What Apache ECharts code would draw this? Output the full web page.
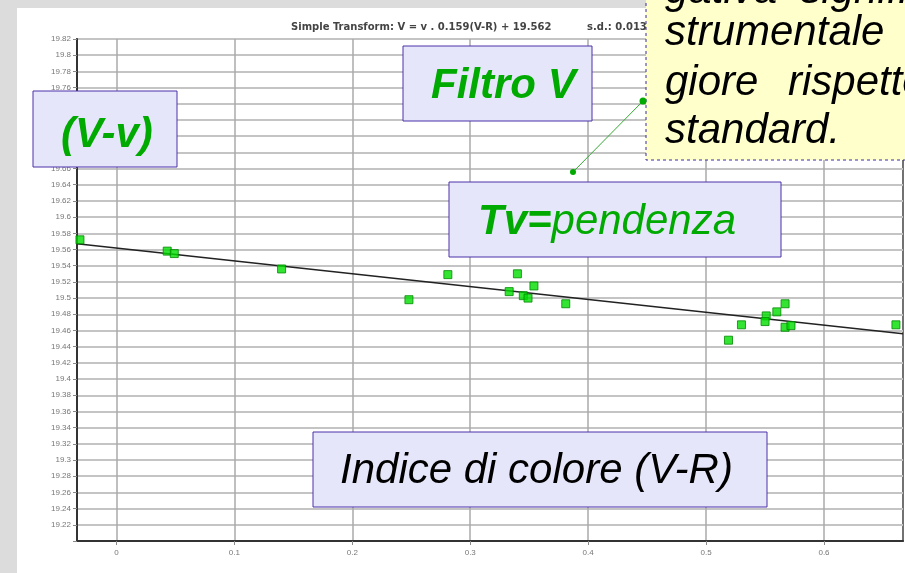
<!DOCTYPE html>
<html>
<head>
<meta charset="utf-8">
<script src="https://cdn.jsdelivr.net/npm/echarts@6/dist/echarts.min.js"></script>
<style>
html,body{margin:0;padding:0;background:#dcdcdc;}
#chart{width:905px;height:573px;}
</style>
</head>
<body>
<div id="chart"></div>
<script>
// Observed data: colour index (V-R) vs instrumental offset (V-v)
const colorIndex = [-0.031, 0.043, 0.049, 0.140, 0.248, 0.281, 0.340, 0.333, 0.345, 0.349, 0.354, 0.381,
                    0.519, 0.530, 0.551, 0.550, 0.560, 0.567, 0.567, 0.572, 0.661];
const offsetVv   = [19.572, 19.558, 19.555, 19.536, 19.498, 19.529, 19.530, 19.508, 19.503, 19.500, 19.515, 19.493,
                    19.448, 19.467, 19.478, 19.471, 19.483, 19.493, 19.464, 19.466, 19.467];
// Fitted line end points
const fitX = [-0.0335, 0.667];
const fitY = [19.567, 19.456];
// X tick values shown on the axis
const xTicks = [0, 0.1, 0.2, 0.3, 0.4, 0.5, 0.6];
const titleText = "Simple Transform: V = v . 0.159(V-R) + 19.562";
const sdText = "s.d.: 0.0131";
const noteLines = ["gativa  significativa", "strumentale  mag-", "giore", "standard."];

const chart = echarts.init(document.getElementById('chart'));
const pts = colorIndex.map((x, i) => [x, offsetVv[i]]);
const fit = fitX.map((x, i) => [x, fitY[i]]);
const F = '"Liberation Sans", Arial, sans-serif';
const green = '#00aa00';
const boxFill = '#e6e6fa';
const boxStroke = '#4a30a8';

chart.setOption({
  animation: false,
  backgroundColor: 'transparent',
  grid: {left: 77, top: 39, right: 2, bottom: 32, show: true, borderColor: '#444', borderWidth: 1.5, backgroundColor: '#fff'},
  xAxis: {
    type: 'value', min: -0.0335, max: 0.667,
    axisLine: {show: true, onZero: false, lineStyle: {color: '#333', width: 2}},
    axisTick: {show: true, length: 4, customValues: xTicks, lineStyle: {color: '#888'}},
    splitLine: {show: true, lineStyle: {color: '#aaaaaa', width: 1.5}},
    axisLabel: {
      fontSize: 8, color: '#777', fontFamily: F, margin: 8, customValues: xTicks,
      formatter: v => String(Math.round(v * 10) / 10)
    }
  },
  yAxis: {
    type: 'value', min: 19.2, max: 19.82, interval: 0.02,
    axisLine: {show: true, onZero: false, lineStyle: {color: '#333', width: 2}},
    axisTick: {show: true, length: 4, lineStyle: {color: '#888'}},
    splitLine: {show: true, lineStyle: {color: '#c4c4c4', width: 2}},
    axisLabel: {
      fontSize: 8, color: '#777', fontFamily: F, margin: 6,
      formatter: v => v < 19.21 ? '' : String(Math.round(v * 100) / 100)
    }
  },
  series: [
    {type: 'line', data: fit, symbol: 'none', lineStyle: {color: '#222', width: 1.5}, z: 3},
    {type: 'scatter', data: pts, symbol: 'rect', symbolSize: 8,
     itemStyle: {color: '#00dd00', borderColor: '#008800', borderWidth: 1}, z: 4}
  ],
  graphic: [
    {type: 'rect', shape: {x: 17, y: 8, width: 888, height: 565}, style: {fill: '#ffffff'}, z: -10, silent: true},
    {type: 'text', x: 291, y: 27, style: {text: titleText, font: 'bold 10px "DejaVu Sans", sans-serif', fill: '#444', verticalAlign: 'middle'}, z: 10},
    {type: 'text', x: 587, y: 27, style: {text: sdText, font: 'bold 10px "DejaVu Sans", sans-serif', fill: '#444', verticalAlign: 'middle'}, z: 10},
    // (V-v)
    {type: 'rect', shape: {x: 33, y: 91, width: 144, height: 76}, style: {fill: boxFill, stroke: boxStroke, lineWidth: 1}, z: 20},
    {type: 'text', x: 61, y: 135, style: {text: '(V-v)', font: 'italic bold 42px ' + F, fill: green, verticalAlign: 'middle'}, z: 21},
    // Filtro V
    {type: 'rect', shape: {x: 403, y: 46, width: 189, height: 75}, style: {fill: boxFill, stroke: boxStroke, lineWidth: 1}, z: 20},
    {type: 'text', x: 431, y: 86, style: {text: 'Filtro V', font: 'italic bold 42px ' + F, fill: green, verticalAlign: 'middle'}, z: 21},
    // Tv=pendenza
    {type: 'rect', shape: {x: 449, y: 182, width: 332, height: 75}, style: {fill: boxFill, stroke: boxStroke, lineWidth: 1}, z: 20},
    {type: 'text', x: 478, y: 222, style: {
      text: '{b|Tv=}{n|pendenza}', verticalAlign: 'middle',
      rich: {b: {font: 'italic bold 42px ' + F, fill: green}, n: {font: 'italic 42px ' + F, fill: green}}
    }, z: 21},
    // Indice di colore
    {type: 'rect', shape: {x: 313, y: 432, width: 454, height: 75}, style: {fill: boxFill, stroke: boxStroke, lineWidth: 1}, z: 20},
    {type: 'text', x: 340, y: 471, style: {text: 'Indice di colore (V-R)', font: 'italic 42px ' + F, fill: '#000', verticalAlign: 'middle'}, z: 21},
    // note box
    {type: 'rect', shape: {x: 646, y: -10, width: 270, height: 170}, style: {fill: '#ffffcc', stroke: '#3a2aa0', lineWidth: 1, lineDash: [3, 3]}, z: 30},
    {type: 'text', x: 665, y: -9, style: {text: noteLines[0], font: 'italic 42px ' + F, fill: '#000', verticalAlign: 'middle'}, z: 31},
    {type: 'text', x: 665, y: 33, style: {text: noteLines[1], font: 'italic 42px ' + F, fill: '#000', verticalAlign: 'middle'}, z: 31},
    {type: 'text', x: 665, y: 83, style: {text: noteLines[2], font: 'italic 42px ' + F, fill: '#000', verticalAlign: 'middle'}, z: 31},
    {type: 'text', x: 788, y: 83, style: {text: 'rispetto', font: 'italic 42px ' + F, fill: '#000', verticalAlign: 'middle'}, z: 31},
    {type: 'text', x: 665, y: 131, style: {text: noteLines[3], font: 'italic 42px ' + F, fill: '#000', verticalAlign: 'middle'}, z: 31},
    // connector
    {type: 'line', shape: {x1: 573, y1: 172, x2: 643, y2: 101}, style: {stroke: '#33aa33', lineWidth: 1}, z: 32},
    {type: 'circle', shape: {cx: 573, cy: 172, r: 3}, style: {fill: green}, z: 33},
    {type: 'circle', shape: {cx: 643, cy: 101, r: 3.5}, style: {fill: green}, z: 33}
  ]
});
</script>
</body>
</html>
